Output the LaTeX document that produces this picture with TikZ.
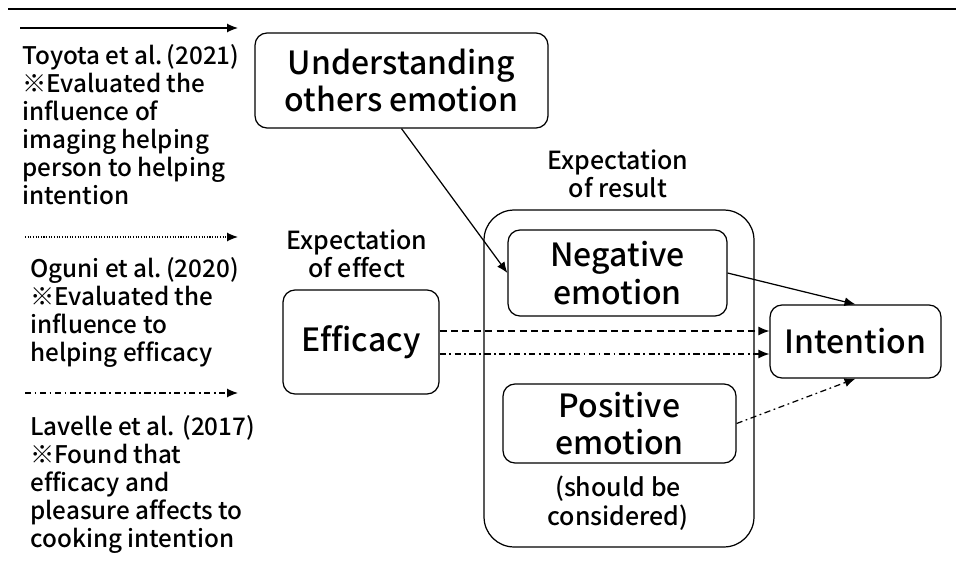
\documentclass[tikz,border=0pt]{standalone}
\usepackage{fontspec}
\setmainfont{Noto Sans CJK JP}[BoldFont={Noto Sans CJK JP Medium}, Ligatures=NoCommon]
\usetikzlibrary{arrows.meta,positioning}
\tikzset{
  box/.style={draw, line width=0.7pt, rounded corners=2.4mm, align=center, inner sep=0pt, font=\fontsize{18.2}{21.5}\selectfont\bfseries},
  group/.style={draw, line width=0.7pt, rounded corners=6mm, inner sep=0pt},
  note/.style={align=left, inner sep=0pt, anchor=north west, font=\fontsize{13.8}{15.9}\selectfont\bfseries},
  head/.style={align=center, inner sep=0pt, font=\fontsize{14.2}{16.2}\selectfont\bfseries},
  arrow/.style={-{Latex[length=2.2mm,width=1.8mm]}, line width=0.7pt},
  dotline/.style={arrow, dash pattern=on 0.6pt off 0.9pt},
  dashline/.style={arrow, dash pattern=on 4pt off 2.5pt},
  dashdot/.style={arrow, dash pattern=on 3.5pt off 2pt on 1pt off 2pt}
}
\begin{document}
\begin{tikzpicture}[x=0.02cm, y=-0.02cm]
  \useasboundingbox (0,0) rectangle (956,584);

  % top rule
  \coordinate (rule-l) at (8,9);
  \coordinate (rule-r) at (956,9);
  \draw[line width=0.8pt] (rule-l) -- (rule-r);

  % legend
  \coordinate (key1-l) at (20,28);  \coordinate (key1-r) at (238,28);
  \coordinate (key2-l) at (25,237); \coordinate (key2-r) at (238,237);
  \coordinate (key3-l) at (25,393); \coordinate (key3-r) at (238,393);
  \draw[arrow] (key1-l) -- (key1-r);
  \draw[dotline] (key2-l) -- (key2-r);
  \draw[dashdot] (key3-l) -- (key3-r);

  \node[note] (toyota) at (22,44) {Toyota et al.\,(2021)\\※Evaluated the\\influence of\\imaging helping\\person to helping\\intention};
  \node[note] (oguni) at (30,257) {Oguni et al.\,(2020)\\※Evaluated the\\influence to\\helping efficacy};
  \node[note] (lavelle) at (30,415) {Lavelle et al. (2017)\\※Found that\\efficacy and\\pleasure affects to\\cooking intention};

  % model
  \node[box, minimum width=58.6mm, minimum height=19mm] (others) at (401.5,80.5) {Understanding\\others emotion};
  \node[group, minimum width=54mm, minimum height=67.4mm] (result) at (619,378.5) {};
  \node[head] (resultlbl) at (618,174) {Expectation\\of result};
  \node[box, minimum width=43.8mm, minimum height=17.2mm] (neg) at (617.5,273) {Negative\\emotion};
  \node[box, minimum width=46.6mm, minimum height=15.8mm] (pos) at (619.5,423.5) {Positive\\emotion};
  \node[head] (note) at (618,503) {(should be\\considered)};
  \node[head] (effectlbl) at (357,254) {Expectation\\of effect};
  \node[box, minimum width=31.2mm, minimum height=20.8mm] (eff) at (361,342) {Efficacy};
  \node[box, minimum width=34.2mm, minimum height=14.6mm] (int) at (855.5,341.5) {Intention};

  \draw[arrow] (others.south) -- (neg.west);
  \draw[arrow] (neg.east) -- (int.north);
  \draw[dashline] ([yshift=2.2mm]eff.east) -- ([yshift=2.2mm]eff.east -| int.west);
  \draw[dashdot] ([yshift=-2.4mm]eff.east) -- ([yshift=-2.4mm]eff.east -| int.west);
  \draw[dashdot] (pos.east) -- (int.south);
\end{tikzpicture}
\end{document}
